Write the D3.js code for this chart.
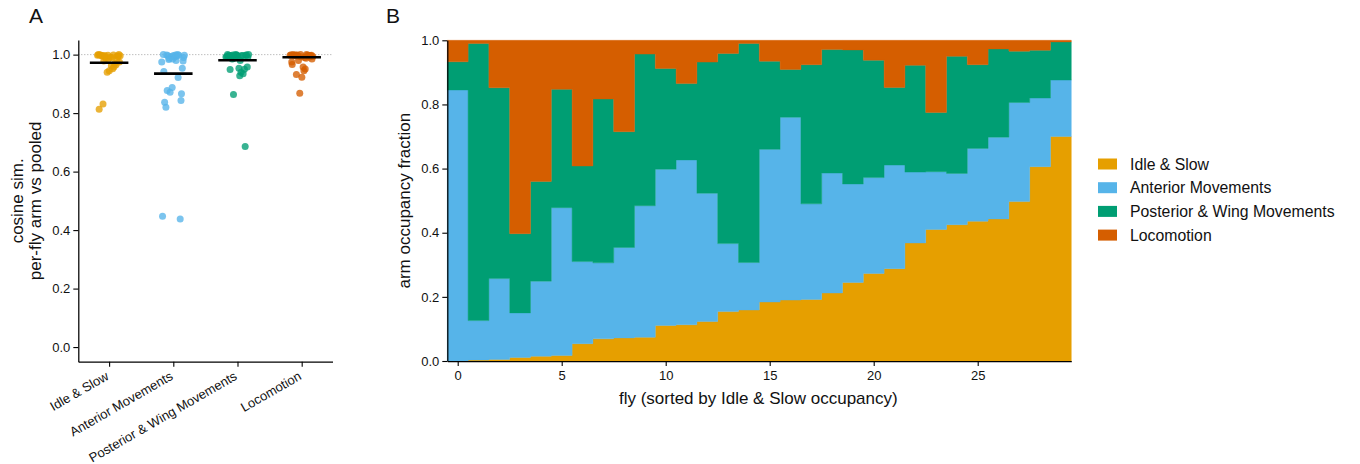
<!DOCTYPE html>
<html>
<head>
<meta charset="utf-8">
<script src="https://cdn.jsdelivr.net/npm/d3@7"></script>
<style>
  body { margin: 0; background: #fff; }
  svg { display: block; font-family: "Liberation Sans", Arial, Helvetica, sans-serif; }
</style>
</head>
<body>
<svg id="fig" width="1360" height="464"></svg>
<script>
// ---- data ---------------------------------------------------------------
const armNames = ["Idle & Slow", "Anterior Movements", "Posterior & Wing Movements", "Locomotion"];
const armColors = ["#E69F00", "#56B4E9", "#009E73", "#D55E00"];

// Panel A: per-fly cosine similarity of arm profile vs pooled profile
const simIdleSlow = [0.998, 0.990, 0.831, 0.996, 0.985, 0.999, 0.958, 0.993, 0.975, 0.991,
                     0.997, 0.965, 0.940, 1.000, 0.952, 0.978, 0.994, 0.945, 0.999, 0.970,
                     0.988, 0.996, 0.962, 0.995, 0.982, 0.998, 0.813, 0.999, 0.997, 1.000];
const simAnterior = [0.975, 0.980, 0.877, 0.866, 0.985, 0.942, 0.922, 0.988, 0.990, 0.992,
                     0.820, 0.438, 0.994, 0.447, 0.995, 0.996, 0.953, 0.997, 0.837, 0.998,
                     0.871, 0.998, 0.999, 0.999, 0.843, 0.888, 1.000, 1.000, 0.983, 0.978];
const simPosterior = [0.992, 0.980, 0.996, 0.998, 0.999, 0.994, 0.997, 0.864, 0.990, 0.953,
                      0.949, 0.950, 1.000, 0.993, 0.940, 0.985, 0.999, 0.996, 0.998, 0.935,
                      0.988, 1.000, 0.928, 0.995, 0.686, 0.997, 1.000, 0.996, 0.999, 0.958];
const simLocomotion = [0.998, 0.990, 0.999, 0.997, 0.993, 0.966, 1.000, 0.995, 0.985, 0.958,
                       0.996, 0.998, 0.868, 0.999, 0.951, 0.932, 0.996, 0.923, 1.000, 0.998,
                       0.980, 0.994, 0.945, 0.997, 0.992, 1.000, 0.975, 0.988, 0.999, 0.998];
const simMeans = [0.972, 0.935, 0.981, 0.991];
const simTicks = [0.0, 0.2, 0.4, 0.6, 0.8, 1.0];

// Panel B: per-fly arm occupancy fractions, flies sorted by Idle & Slow
const occIdleSlow = [0.000, 0.003, 0.005, 0.011, 0.015, 0.017, 0.054, 0.069, 0.072, 0.074,
                     0.111, 0.113, 0.123, 0.154, 0.159, 0.184, 0.190, 0.192, 0.212, 0.245,
                     0.273, 0.288, 0.368, 0.410, 0.425, 0.436, 0.443, 0.497, 0.606, 0.700];
const occAnterior = [0.845, 0.123, 0.252, 0.139, 0.234, 0.461, 0.256, 0.237, 0.282, 0.410,
                     0.487, 0.514, 0.400, 0.212, 0.148, 0.476, 0.570, 0.298, 0.374, 0.307,
                     0.299, 0.323, 0.221, 0.180, 0.160, 0.227, 0.255, 0.309, 0.214, 0.176];
const occPosterior = [0.088, 0.864, 0.595, 0.247, 0.311, 0.369, 0.298, 0.511, 0.361, 0.473,
                      0.314, 0.238, 0.409, 0.593, 0.683, 0.275, 0.149, 0.434, 0.385, 0.418,
                      0.366, 0.242, 0.333, 0.185, 0.365, 0.261, 0.275, 0.160, 0.149, 0.119];
const occLocomotion = [0.067, 0.010, 0.148, 0.603, 0.440, 0.153, 0.392, 0.183, 0.285, 0.043,
                       0.088, 0.135, 0.068, 0.041, 0.010, 0.065, 0.091, 0.076, 0.029, 0.030,
                       0.062, 0.147, 0.078, 0.225, 0.050, 0.076, 0.027, 0.034, 0.031, 0.005];
const flyTicks = [0, 5, 10, 15, 20, 25];
const occTicks = [0.0, 0.2, 0.4, 0.6, 0.8, 1.0];

// ---- figure -------------------------------------------------------------
const svg = d3.select("#fig");
const tickFont = 13;
const labelFont = 17;

function styleAxis(g) {
  g.selectAll("path.domain").attr("stroke", "#000").attr("stroke-width", 1.25);
  g.selectAll(".tick line").attr("stroke", "#000").attr("stroke-width", 1.1);
  g.selectAll(".tick text").attr("fill", "#111").attr("font-size", tickFont)
    .attr("font-family", "Liberation Sans, Arial, sans-serif");
}

// ---- panel A: strip plot --------------------------------------------------
const A = { left: 78.3, right: 332.5, top: 40, bottom: 361.7 };
const xA = d3.scaleLinear().domain([-0.48, 3.48]).range([A.left, A.right]);
const yA = d3.scaleLinear().domain([-0.05, 1.05]).range([A.bottom, A.top]);
const gA = svg.append("g");

// reference line at perfect similarity
gA.append("line")
  .attr("x1", A.left).attr("x2", A.right)
  .attr("y1", yA(1)).attr("y2", yA(1))
  .attr("stroke", "#9a9a9a").attr("stroke-width", 0.9)
  .attr("stroke-dasharray", "1,2");

// deterministic low-discrepancy jitter within each category
const jitter = i => (((i * 0.6180339887) % 1) - 0.5) * 0.36;
const simGroups = [simIdleSlow, simAnterior, simPosterior, simLocomotion];
simGroups.forEach((vals, k) => {
  gA.append("g").selectAll("circle").data(vals).join("circle")
    .attr("cx", (d, i) => xA(k + jitter(i)))
    .attr("cy", d => yA(d))
    .attr("r", 3.5)
    .attr("fill", armColors[k])
    .attr("fill-opacity", 0.78);
});

// per-arm mean bars
gA.append("g").selectAll("line").data(simMeans).join("line")
  .attr("x1", (d, k) => xA(k - 0.3))
  .attr("x2", (d, k) => xA(k + 0.3))
  .attr("y1", d => yA(d)).attr("y2", d => yA(d))
  .attr("stroke", "#000").attr("stroke-width", 2.6);

const axAy = gA.append("g").attr("transform", `translate(${A.left},0)`)
  .call(d3.axisLeft(yA).tickValues(simTicks).tickFormat(d3.format(".1f"))
    .tickSize(5).tickSizeOuter(0).tickPadding(3));
styleAxis(axAy);

const axAx = gA.append("g").attr("transform", `translate(0,${A.bottom})`)
  .call(d3.axisBottom(xA).tickValues([0, 1, 2, 3]).tickFormat(i => armNames[i])
    .tickSize(5).tickSizeOuter(0));
styleAxis(axAx);
axAx.selectAll(".tick text")
  .attr("font-size", 13)
  .attr("text-anchor", "end")
  .attr("dy", null)
  .attr("y", 0)
  .attr("transform", "translate(0,17) rotate(-30)");

const yLabA = gA.append("text")
  .attr("transform", `translate(0,${(A.top + A.bottom) / 2}) rotate(-90)`)
  .attr("text-anchor", "middle").attr("font-size", labelFont).attr("fill", "#111");
yLabA.append("tspan").attr("x", 0).attr("y", 23).text("cosine sim.");
yLabA.append("tspan").attr("x", 0).attr("y", 41).text("per-fly arm vs pooled");

svg.append("text").attr("x", 29).attr("y", 23).attr("font-size", 21).attr("fill", "#111").text("A");

// ---- panel B: stacked occupancy -------------------------------------------
const B = { left: 447.3, right: 1071.3, top: 40.3, bottom: 361 };
const xB = d3.scaleLinear().domain([-0.5, 29.5]).range([B.left, B.right]);
const yB = d3.scaleLinear().domain([0, 1]).range([B.bottom, B.top]);
const gB = svg.append("g");

const keys = ["idle", "anterior", "posterior", "locomotion"];
const rows = occIdleSlow.map((v, i) => ({
  fly: i, idle: v, anterior: occAnterior[i], posterior: occPosterior[i], locomotion: occLocomotion[i]
}));
const stacked = d3.stack().keys(keys)(rows);

// each fly occupies a full unit-wide step
const stepArea = d3.area()
  .x(p => xB(p.x))
  .y0(p => yB(p.y0))
  .y1(p => yB(p.y1));

stacked.forEach((layer, k) => {
  const pts = [];
  layer.forEach(seg => {
    const f = seg.data.fly;
    pts.push({ x: f - 0.5, y0: seg[0], y1: seg[1] });
    pts.push({ x: f + 0.5, y0: seg[0], y1: seg[1] });
  });
  gB.append("path")
    .attr("d", stepArea(pts))
    .attr("fill", armColors[k])
    .attr("stroke", armColors[k])
    .attr("stroke-width", 0.4);
});

const axBy = gB.append("g").attr("transform", `translate(${B.left},0)`)
  .call(d3.axisLeft(yB).tickValues(occTicks).tickFormat(d3.format(".1f"))
    .tickSize(5).tickSizeOuter(0).tickPadding(3));
styleAxis(axBy);

const axBx = gB.append("g").attr("transform", `translate(0,${B.bottom})`)
  .call(d3.axisBottom(xB).tickValues(flyTicks).tickFormat(d3.format("d"))
    .tickSize(5).tickSizeOuter(0).tickPadding(5));
styleAxis(axBx);

gB.append("text")
  .attr("x", (B.left + B.right) / 2 - 1).attr("y", 404)
  .attr("text-anchor", "middle").attr("font-size", labelFont).attr("fill", "#111")
  .text("fly (sorted by Idle & Slow occupancy)");

gB.append("text")
  .attr("transform", `translate(410,${(B.top + B.bottom) / 2}) rotate(-90)`)
  .attr("text-anchor", "middle").attr("font-size", labelFont).attr("fill", "#111")
  .text("arm occupancy fraction");

svg.append("text").attr("x", 386).attr("y", 23).attr("font-size", 21).attr("fill", "#111").text("B");

// legend
const legend = svg.append("g").attr("transform", "translate(1098,164)");
const legItems = legend.selectAll("g").data(armNames).join("g")
  .attr("transform", (d, i) => `translate(0,${i * 23.7})`);
legItems.append("rect")
  .attr("x", 0).attr("y", -5.5).attr("width", 19).attr("height", 11)
  .attr("fill", (d, i) => armColors[i]);
legItems.append("text")
  .attr("x", 32).attr("y", 0).attr("dy", "0.35em")
  .attr("font-size", 15.8).attr("fill", "#111")
  .text(d => d);
</script>
</body>
</html>
